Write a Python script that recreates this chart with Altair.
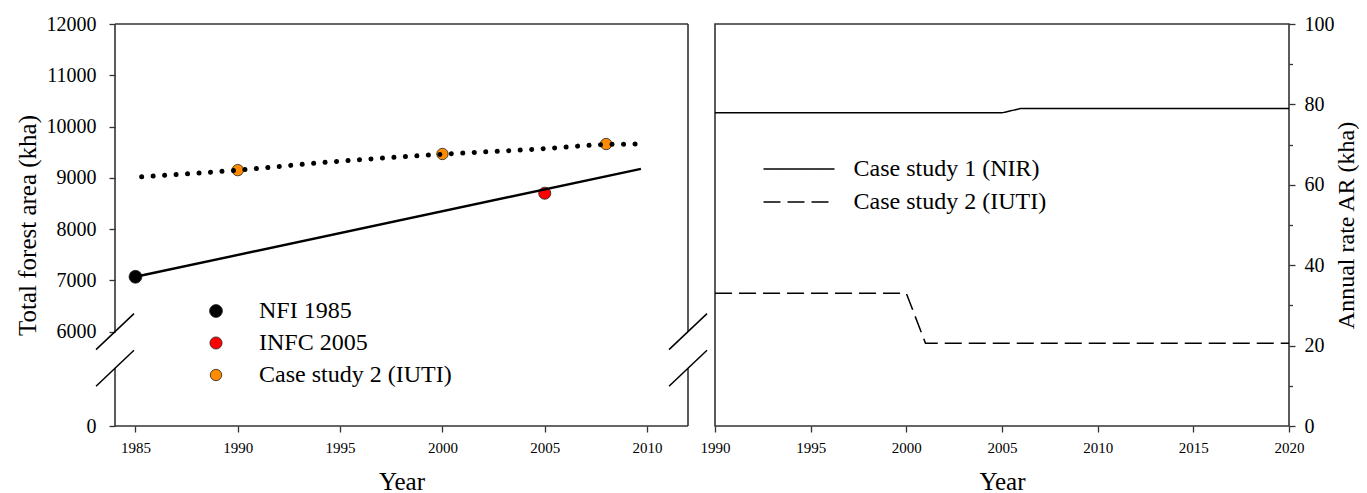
import altair as alt
import pandas as pd

FONT = "Liberation Serif"
INK = "#000000"
FRAME = "#333333"

# ---------------- left panel data (total forest area, kha) ----------------
nfi_years = [1985]
nfi_area = [7070]
infc_years = [2005]
infc_area = [8700]
iuti_pt_years = [1990, 2000, 2008]
iuti_pt_area = [9150, 9465, 9660]

nir_trend_years = [1985, 2009.7]
nir_trend_area = [7070, 9175]
iuti_curve_years = [1985.3, 1990, 1994.2, 2000, 2005, 2008, 2009.7]
iuti_curve_area = [9020, 9150, 9300, 9460, 9570, 9650, 9660]

point_series = ["NFI 1985", "INFC 2005", "Case study 2 (IUTI)"]
point_colors = ["#000000", "#FF0000", "#FF8C00"]
point_sizes = [165, 130, 130]

# ---------------- right panel data (annual rate AR, kha) ----------------
nir_ar_years = [1990, 2005, 2006, 2020]
nir_ar = [77.9, 77.9, 79.0, 79.0]
iuti_ar_years = [1990, 2000, 2001, 2020]
iuti_ar = [33.0, 33.0, 20.6, 20.6]
line_series = ["Case study 1 (NIR)", "Case study 2 (IUTI)"]

# ---------------- scale parameters ----------------
LEFT_X = [1984, 2012]
RIGHT_X = [1990, 2020]
BREAK_AT = 6000      # upper segment starts here
LOWER_SPAN = 1840    # display units given to the lower (0..break) segment
Y_TOP = 12000
LOWER_TICK = 1126    # unlabeled tick on the lower segment
DISP_TOP = Y_TOP - BREAK_AT + LOWER_SPAN

to_disp = f"datum.area >= {BREAK_AT} ? datum.area - {BREAK_AT} + {LOWER_SPAN} : datum.area"

W_L, W_R, H = 573, 574, 402

# ---------------- left panel ----------------
pts = pd.DataFrame({
    "year": nfi_years + infc_years + iuti_pt_years,
    "area": nfi_area + infc_area + iuti_pt_area,
    "series": [point_series[0]] * len(nfi_years) + [point_series[1]] * len(infc_years)
              + [point_series[2]] * len(iuti_pt_years),
})
trend = pd.DataFrame({"year": nir_trend_years, "area": nir_trend_area})
curve = pd.DataFrame({"year": iuti_curve_years, "area": iuti_curve_area})

major_test = (f"datum.value == 0 || (datum.value >= {LOWER_SPAN} && "
              f"(datum.value - {LOWER_SPAN}) % 1000 == 0)")
y_values = [0, LOWER_TICK] + list(range(LOWER_SPAN, DISP_TOP + 1, 500))
label_expr = (f"datum.value == 0 ? '0' : (({major_test}) ? "
              f"format(datum.value - {LOWER_SPAN} + {BREAK_AT}, 'd') : '')")

x_left = alt.X("year:Q", scale=alt.Scale(domain=LEFT_X, nice=False, zero=False),
               axis=alt.Axis(values=list(range(1985, 2011, 5)), format="d", title="Year",
                             labelFontSize=15, titleFontSize=25, tickSize=6,
                             labelPadding=8, titlePadding=14, domain=False,
                             labelFlush=False, grid=False))
y_left = alt.Y("disp:Q", scale=alt.Scale(domain=[0, DISP_TOP], nice=False, zero=False),
               axis=alt.Axis(values=y_values, labelExpr=label_expr, title="Total forest area (kha)",
                             labelFontSize=20, titleFontSize=25, labelOverlap=False,
                             tickSize={"condition": {"test": major_test, "value": 6}, "value": 3.5},
                             labelPadding=13, titlePadding=6, domain=False, grid=False))

# frame of the left panel (broken at the axis break)
frame = pd.DataFrame({
    "x":  [LEFT_X[0], LEFT_X[0], LEFT_X[1], LEFT_X[1], LEFT_X[0], LEFT_X[0]],
    "x2": [LEFT_X[0], LEFT_X[0], LEFT_X[1], LEFT_X[1], LEFT_X[1], LEFT_X[1]],
    "y":  [0, LOWER_SPAN, 0, LOWER_SPAN, 0, DISP_TOP],
    "y2": [LOWER_TICK, DISP_TOP, LOWER_TICK, DISP_TOP, 0, DISP_TOP],
})
frame_layer = alt.Chart(frame).mark_rule(color=FRAME, strokeWidth=1.6).encode(
    x=alt.X("x:Q", scale=alt.Scale(domain=LEFT_X, nice=False, zero=False)),
    x2="x2:Q", y="y:Q", y2="y2:Q")

slashes = pd.DataFrame({
    "x": [LEFT_X[0], LEFT_X[0], LEFT_X[1], LEFT_X[1]],
    "y": [LOWER_SPAN, LOWER_TICK, LOWER_SPAN, LOWER_TICK],
})
slash_layer = alt.Chart(slashes).mark_rule(
    color=INK, strokeWidth=1.5, xOffset=-19, x2Offset=19, yOffset=18, y2Offset=-18
).encode(x="x:Q", x2="x:Q", y="y:Q", y2="y:Q")

points = alt.Chart(pts).transform_calculate(disp=to_disp).mark_circle(
    opacity=1, stroke="#222222", strokeWidth=0.8
).encode(
    x=x_left, y=y_left,
    size=alt.Size("series:N", scale=alt.Scale(domain=point_series, range=point_sizes),
                  legend=None),
    color=alt.Color("series:N", scale=alt.Scale(domain=point_series, range=point_colors),
                    legend=alt.Legend(title=None, orient="none", legendX=89, legendY=275,
                                      labelFontSize=24, labelFont=FONT, labelColor=INK,
                                      labelLimit=0,
                                      symbolType="circle", symbolSize=135, symbolOpacity=1,
                                      symbolStrokeColor="#222222", symbolStrokeWidth=0.8,
                                      labelOffset=31, rowPadding=8, padding=0)),
)
trend_line = alt.Chart(trend).transform_calculate(disp=to_disp).mark_line(
    color=INK, strokeWidth=2.4).encode(x="year:Q", y="disp:Q")
curve_line = alt.Chart(curve).transform_calculate(disp=to_disp).mark_line(
    color=INK, strokeWidth=5, strokeDash=[0.1, 11.4], strokeCap="round", interpolate="monotone"
).encode(x="year:Q", y="disp:Q")

left = alt.layer(frame_layer, points, trend_line, curve_line, slash_layer).properties(
    width=W_L, height=H, view=alt.ViewBackground(stroke="transparent"))

# ---------------- right panel ----------------
ar = pd.DataFrame({
    "year": nir_ar_years + iuti_ar_years,
    "rate": nir_ar + iuti_ar,
    "series": [line_series[0]] * len(nir_ar_years) + [line_series[1]] * len(iuti_ar_years),
})
right = alt.Chart(ar).mark_line(color=INK, strokeWidth=1.5).encode(
    x=alt.X("year:Q", scale=alt.Scale(domain=RIGHT_X, nice=False, zero=False),
            axis=alt.Axis(values=list(range(1990, 2021, 5)), format="d", title="Year",
                          labelFontSize=15, titleFontSize=25, tickSize=6,
                          labelPadding=8, titlePadding=14, domain=False,
                          labelFlush=False, grid=False)),
    y=alt.Y("rate:Q", scale=alt.Scale(domain=[0, 100], nice=False),
            axis=alt.Axis(orient="right", values=list(range(0, 101, 10)),
                          labelExpr="datum.value % 20 == 0 ? format(datum.value, 'd') : ''",
                          tickSize={"condition": {"test": "datum.value % 20 == 0", "value": 6},
                                    "value": 3.5},
                          title="Annual rate AR (kha)", titleAngle=270, titleBaseline="top",
                          labelFontSize=20, titleFontSize=24, labelPadding=9, titlePadding=0,
                          labelOverlap=False, domain=False, grid=False)),
    strokeDash=alt.StrokeDash("series:N",
                              scale=alt.Scale(domain=line_series, range=[[1, 0], [17, 7]]),
                              legend=alt.Legend(title=None, orient="none", legendX=71, legendY=132,
                                                labelFontSize=24, labelFont=FONT, labelColor=INK,
                                                labelLimit=0,
                                                symbolType="M-3,0H3", symbolSize=560,
                                                symbolFillColor="transparent",
                                                symbolStrokeColor=INK, symbolStrokeWidth=1.5,
                                                labelOffset=41.6, rowPadding=8, padding=0)),
    order="year:Q",
).properties(width=W_R, height=H,
             view=alt.ViewBackground(stroke=FRAME, strokeWidth=1.6))

chart = alt.hconcat(left, right, spacing=27, bounds="flush").resolve_scale(
    color="independent", strokeDash="independent", size="independent"
).resolve_legend(color="independent", strokeDash="independent").properties(
    padding={"left": 6, "top": 5, "right": 0, "bottom": 3}, background="white"
).configure_axis(
    labelFont=FONT, titleFont=FONT, labelColor=INK, titleColor=INK,
    tickColor=FRAME, tickWidth=1.3, titleFontWeight="normal"
)

chart.save("out.html", embed_options={"renderer": "svg", "actions": False})
